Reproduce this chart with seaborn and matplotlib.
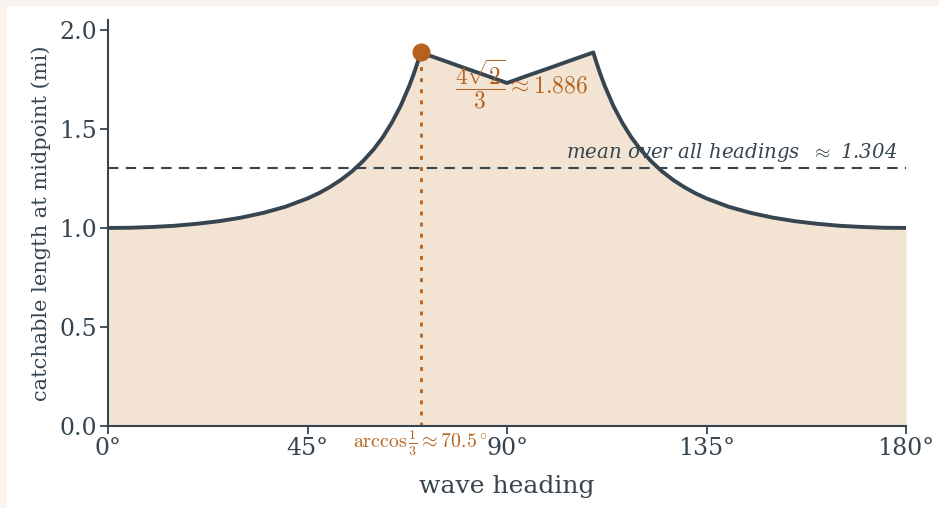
import numpy as np
import pandas as pd
import matplotlib
matplotlib.use("Agg")
import matplotlib.pyplot as plt
from matplotlib.patches import Rectangle
import seaborn as sns

# values
headings = [0, 5, 10, 15, 20, 25, 30, 35, 40, 45, 47.5, 50, 52.5, 55, 57.5, 60, 62, 64, 66,
            68, 69, 70, 70.53,
            75, 80, 85, 90, 95, 100, 105,
            109.47, 110, 111, 112, 114, 116, 118, 120, 122.5, 125, 127.5, 130, 132.5, 135,
            140, 145, 150, 155, 160, 165, 170, 175, 180]
lengths = [1.000, 1.001, 1.005, 1.011, 1.021, 1.034, 1.052, 1.076, 1.107, 1.149, 1.175,
           1.206, 1.242, 1.285, 1.337, 1.399, 1.459, 1.531, 1.616, 1.720, 1.780, 1.847,
           1.886,
           1.851, 1.811, 1.772, 1.732, 1.772, 1.811, 1.851,
           1.886, 1.847, 1.780, 1.720, 1.616, 1.531, 1.459, 1.399, 1.337, 1.285, 1.242,
           1.206, 1.175, 1.149, 1.107, 1.076, 1.052, 1.034, 1.021, 1.011, 1.005, 1.001,
           1.000]
mean_length = 1.304
peak_heading = 70.53
peak_length = 1.886
x_ticks = [0, 45, 90, 135, 180]
x_tick_labels = ["0°", "45°", "90°", "135°", "180°"]
y_ticks = [0.0, 0.5, 1.0, 1.5, 2.0]

ink = "#36454f"
orange = "#b5621e"
fill = "#f2e3d3"
cream = "#f8f3ec"

sns.set_theme(style="ticks")
plt.rcParams["font.family"] = ["DejaVu Serif"]
plt.rcParams["mathtext.fontset"] = "cm"

df = pd.DataFrame({"heading": headings, "length": lengths})

fig = plt.figure(figsize=(9.39, 5.08), dpi=100, facecolor=cream)
fig.add_artist(Rectangle((7 / 939, 0), 1, 1 - 6 / 508, transform=fig.transFigure,
                         facecolor="white", edgecolor="none", zorder=-1))
ax = fig.add_axes([108 / 939, 82 / 508, 798 / 939, 406 / 508])
ax.set_facecolor("white")

ax.fill_between(df["heading"], 0, df["length"], color=fill, lw=0, zorder=1)
sns.lineplot(data=df, x="heading", y="length", ax=ax, color=ink, lw=2.8, zorder=3)

ax.axhline(mean_length, color=ink, lw=1.5, ls=(0, (5, 3.5)), zorder=2)
ax.text(178, mean_length + 0.02, r"mean over all headings  $\approx$ 1.304",
        ha="right", va="bottom", style="italic", fontsize=14.2, color=ink, zorder=4)

ax.plot([peak_heading, peak_heading], [0, peak_length], color=orange, lw=2,
        ls=(0, (1.4, 2.6)), zorder=2)
ax.plot([peak_heading], [peak_length], "o", color=orange, ms=12, zorder=5)
ax.text(78.3, 1.727, r"$\dfrac{4\sqrt{2}}{3}\approx 1.886$", ha="left", va="center",
        fontsize=17, color=orange, zorder=4)
ax.text(peak_heading, -0.085, r"$\arccos\frac{1}{3}\approx 70.5^\circ$", ha="center",
        va="center", fontsize=14.3, color=orange, zorder=4, clip_on=False)

ax.set_xlim(0, 180)
ax.set_ylim(0, 2.05)
ax.set_xticks(x_ticks)
ax.set_xticklabels(x_tick_labels)
ax.set_yticks(y_ticks)
ax.set_yticklabels([f"{v:.1f}" for v in y_ticks])
ax.tick_params(colors=ink, labelsize=17, length=6, width=1.3, pad=2)
ax.set_xlabel("wave heading", fontsize=18, color=ink, labelpad=11)
ax.set_ylabel("catchable length at midpoint (mi)", fontsize=15, color=ink, labelpad=6)

sns.despine(ax=ax)
for side in ["left", "bottom"]:
    ax.spines[side].set_color(ink)
    ax.spines[side].set_linewidth(1.5)

fig.savefig("out.png", dpi=100, facecolor=cream)
